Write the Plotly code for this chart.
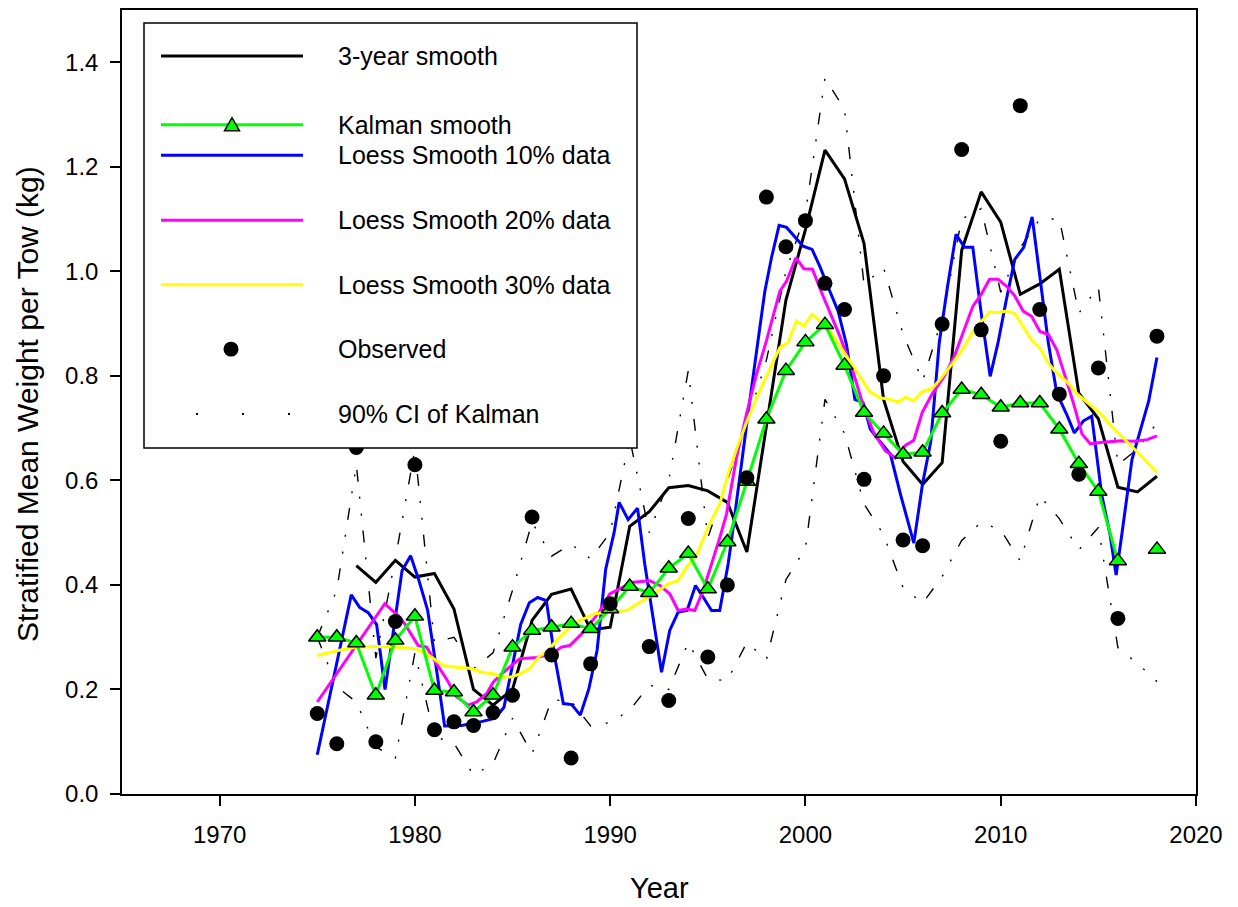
import plotly.graph_objects as go

# ---------------- data ----------------
years = list(range(1975, 2019))

kalman = [0.300, 0.300, 0.289, 0.189, 0.294, 0.340, 0.198, 0.195, 0.157, 0.189,
          0.281, 0.313, 0.319, 0.326, 0.316, 0.354, 0.397, 0.385, 0.432, 0.460,
          0.392, 0.482, 0.598, 0.717, 0.810, 0.865, 0.898, 0.820, 0.730, 0.690,
          0.650, 0.654, 0.729, 0.774, 0.764, 0.740, 0.748, 0.748, 0.698, 0.632,
          0.579, 0.446, None, 0.468]

ci_upper = [0.30, 0.39, 0.63, 0.26, 0.45, 0.66, 0.29, 0.30, 0.24, 0.27,
            0.39, 0.52, 0.455, 0.478, 0.45, 0.50, 0.68, 0.50, 0.60, 0.81,
            0.49, 0.60, 0.71, 0.83, 1.00, 1.11, 1.37, 1.31, 0.975, 1.007,
            0.88, 0.79, 0.91, 1.10, 1.12, 0.96, 1.045, 1.10, 1.10, 0.92,
            0.97, 0.63, 0.66, 0.71]

ci_lower = [0.30, 0.205, 0.176, 0.09, 0.069, 0.27, 0.11, 0.097, 0.036, 0.058,
            0.145, 0.077, 0.18, 0.178, 0.13, 0.137, 0.16, 0.208, 0.20, 0.29,
            0.22, 0.217, 0.29, 0.257, 0.41, 0.47, 0.755, 0.69, 0.555, 0.496,
            0.395, 0.365, 0.416, 0.485, 0.52, 0.505, 0.446, 0.57, 0.527, 0.467,
            0.51, 0.28, 0.25, 0.215]

years_3yr = list(range(1977, 2019))
smooth_3yr = [0.437, 0.405, 0.447, 0.415, 0.422, 0.354, 0.200, 0.170, 0.200, 0.332,
              0.382, 0.392, 0.314, 0.319, 0.512, 0.540, 0.586, 0.590, 0.580, 0.558,
              0.463, 0.705, 0.945, 1.080, 1.232, 1.177, 1.053, 0.755, 0.636, 0.592,
              0.634, 1.040, 1.152, 1.094, 0.956, 0.976, 1.004, 0.767, 0.718, 0.587,
              0.578, 0.608]

years_obs = list(range(1975, 2017)) + [2018]
observed = [0.154, 0.096, 0.663, 0.100, 0.330, 0.630, 0.123, 0.138, 0.131, 0.156,
            0.189, 0.530, 0.266, 0.069, 0.249, 0.364, 0.770, 0.282, 0.179, 0.527,
            0.262, 0.400, 0.605, 1.142, 1.047, 1.097, 0.977, 0.927, 0.602, 0.800,
            0.486, 0.475, 0.899, 1.233, 0.888, 0.675, 1.317, 0.927, 0.765, 0.612,
            0.815, 0.336, 0.876]

loess10_x = [1975.00, 1976.74, 1977.17, 1977.61, 1978.04, 1978.47, 1979.34, 1979.78, 1980.21, 1980.65,
             1981.08, 1981.52, 1982.38, 1983.25, 1984.12, 1984.56, 1984.99, 1985.42, 1985.86, 1986.29,
             1986.73, 1987.16, 1987.60, 1988.03, 1988.47, 1988.90, 1989.33, 1989.77, 1990.20, 1990.46,
             1990.92, 1991.40, 1991.77, 1992.03, 1992.63, 1993.05, 1993.48, 1993.94, 1994.37, 1994.76,
             1995.19, 1995.61, 1996.04, 1996.21, 1996.64, 1997.06, 1997.50, 1997.92, 1998.26, 1998.65,
             1999.03, 1999.45, 1999.88, 2000.34, 2000.73, 2001.25, 2001.67, 2002.10, 2002.53, 2002.95,
             2003.32, 2003.67, 2004.35, 2004.87, 2005.21, 2005.55, 2005.99, 2006.42, 2006.85, 2007.28,
             2007.71, 2008.14, 2008.57, 2009.00, 2009.46, 2009.86, 2010.29, 2010.72, 2011.18, 2011.61,
             2012.00, 2012.44, 2012.87, 2013.37, 2013.77, 2014.24, 2014.66, 2015.17, 2015.60, 2015.91,
             2016.20, 2016.72, 2017.58, 2018.00]
loess10_y = [0.075, 0.381, 0.357, 0.347, 0.324, 0.200, 0.427, 0.456, 0.408, 0.352,
             0.245, 0.130, 0.131, 0.137, 0.145, 0.166, 0.245, 0.325, 0.366, 0.376,
             0.370, 0.262, 0.173, 0.171, 0.151, 0.200, 0.275, 0.430, 0.500, 0.558,
             0.525, 0.547, 0.440, 0.376, 0.233, 0.313, 0.348, 0.351, 0.399, 0.377,
             0.351, 0.351, 0.440, 0.485, 0.612, 0.727, 0.848, 0.962, 1.026, 1.088,
             1.084, 1.067, 1.048, 1.042, 1.010, 0.962, 0.924, 0.860, 0.755, 0.749,
             0.698, 0.681, 0.650, 0.573, 0.528, 0.480, 0.592, 0.675, 0.863, 0.972,
             1.071, 1.046, 1.046, 0.920, 0.799, 0.863, 0.946, 1.023, 1.046, 1.104,
             0.991, 0.863, 0.767, 0.727, 0.691, 0.714, 0.723, 0.573, 0.496, 0.419,
             0.496, 0.640, 0.752, 0.835]

loess20_x = [1975.00, 1976.74, 1978.46, 1979.23, 1979.49, 1980.17, 1980.60, 1981.11, 1981.62, 1982.13,
             1982.73, 1983.16, 1983.67, 1984.01, 1984.44, 1984.95, 1985.38, 1986.23, 1987.00, 1987.50,
             1987.93, 1988.45, 1988.96, 1989.47, 1989.98, 1990.45, 1991.18, 1992.03, 1992.54, 1993.05,
             1993.48, 1993.91, 1994.33, 1994.76, 1995.19, 1995.61, 1995.96, 1996.47, 1996.98, 1997.49,
             1998.00, 1998.69, 1999.03, 1999.51, 1999.92, 2000.36, 2000.80, 2001.25, 2001.77, 2002.46,
             2002.97, 2003.49, 2004.09, 2004.61, 2005.12, 2005.55, 2005.98, 2006.50, 2007.10, 2007.62,
             2008.14, 2008.57, 2009.00, 2009.43, 2009.86, 2010.29, 2010.72, 2011.15, 2011.58, 2012.01,
             2012.44, 2012.87, 2013.30, 2013.73, 2014.16, 2014.59, 2015.19, 2015.71, 2016.22, 2016.82,
             2017.51, 2018.00]
loess20_y = [0.176, 0.270, 0.364, 0.338, 0.325, 0.284, 0.281, 0.249, 0.220, 0.186,
             0.170, 0.176, 0.192, 0.214, 0.230, 0.246, 0.259, 0.261, 0.268, 0.281,
             0.284, 0.303, 0.325, 0.350, 0.383, 0.392, 0.405, 0.408, 0.399, 0.383,
             0.351, 0.354, 0.351, 0.389, 0.440, 0.490, 0.536, 0.644, 0.727, 0.803,
             0.867, 0.962, 0.981, 1.026, 1.005, 1.004, 0.962, 0.921, 0.875, 0.805,
             0.742, 0.692, 0.657, 0.643, 0.667, 0.677, 0.730, 0.766, 0.799, 0.837,
             0.888, 0.933, 0.956, 0.985, 0.985, 0.972, 0.953, 0.924, 0.914, 0.885,
             0.879, 0.850, 0.799, 0.747, 0.689, 0.670, 0.673, 0.675, 0.676, 0.675,
             0.678, 0.685]

loess30_x = [1975.00, 1976.00, 1977.00, 1978.04, 1979.06, 1980.00, 1980.60, 1981.45, 1981.96, 1982.90,
             1983.41, 1984.01, 1984.44, 1984.95, 1985.38, 1985.89, 1986.32, 1986.83, 1987.25, 1987.77,
             1988.28, 1988.79, 1989.22, 1989.98, 1990.84, 1991.40, 1992.03, 1992.97, 1993.48, 1993.91,
             1994.42, 1995.10, 1995.61, 1996.04, 1996.47, 1996.98, 1997.49, 1998.09, 1998.69, 1999.11,
             1999.54, 1999.92, 2000.34, 2000.73, 2001.25, 2001.76, 2002.27, 2002.78, 2003.29, 2003.81,
             2004.32, 2004.75, 2005.12, 2005.55, 2005.98, 2006.50, 2007.02, 2007.53, 2008.14, 2008.57,
             2009.00, 2009.43, 2009.86, 2010.29, 2010.72, 2011.15, 2011.58, 2012.01, 2012.44, 2012.87,
             2013.38, 2013.90, 2014.50, 2015.10, 2015.71, 2016.39, 2017.08, 2018.00]
loess30_y = [0.265, 0.274, 0.281, 0.282, 0.281, 0.278, 0.268, 0.246, 0.243, 0.240,
             0.233, 0.230, 0.224, 0.224, 0.230, 0.240, 0.262, 0.274, 0.294, 0.313,
             0.329, 0.338, 0.345, 0.348, 0.351, 0.364, 0.378, 0.402, 0.408, 0.434,
             0.457, 0.517, 0.555, 0.612, 0.660, 0.711, 0.758, 0.806, 0.854, 0.864,
             0.905, 0.895, 0.918, 0.905, 0.886, 0.857, 0.828, 0.800, 0.770, 0.758,
             0.755, 0.750, 0.759, 0.752, 0.770, 0.776, 0.799, 0.824, 0.856, 0.885,
             0.904, 0.922, 0.921, 0.924, 0.919, 0.895, 0.869, 0.853, 0.824, 0.805,
             0.789, 0.766, 0.747, 0.728, 0.702, 0.677, 0.651, 0.615]

x_ticks = [1970, 1980, 1990, 2000, 2010, 2020]
y_ticks = [0.0, 0.2, 0.4, 0.6, 0.8, 1.0, 1.2, 1.4]

legend_labels = ["3-year smooth", "Kalman smooth", "Loess Smooth 10% data",
                 "Loess Smooth 20% data", "Loess Smooth 30% data", "Observed",
                 "90% CI of Kalman"]

assert len(loess10_x) == len(loess10_y)
assert len(loess20_x) == len(loess20_y)
assert len(loess30_x) == len(loess30_y)
assert len(kalman) == len(years) == len(ci_upper) == len(ci_lower)
assert len(years_3yr) == len(smooth_3yr) and len(years_obs) == len(observed)

# ---------------- styling ----------------
FONT = "Liberation Sans, Arial, sans-serif"
W, H = 1238, 907
ML, MR, MT, MB = 122, 42, 8, 113
PW, PH = W - ML - MR, H - MT - MB

LIME, BLUE, MAGENTA, YELLOW = "#00FF00", "#0000FF", "#FF00FF", "#FFFF00"
CI_DASH = "12px,15px,2px,15px,2px,15px"


def px(x):
    return (x - ML) / PW


def py(y):
    return (H - MB - y) / PH


fig = go.Figure()

fig.add_trace(go.Scatter(x=years, y=ci_upper, mode="lines", showlegend=False,
                         line=dict(color="black", width=1.4, dash=CI_DASH)))
fig.add_trace(go.Scatter(x=years, y=ci_lower, mode="lines", showlegend=False,
                         line=dict(color="black", width=1.4, dash=CI_DASH)))
fig.add_trace(go.Scatter(x=years_3yr, y=smooth_3yr, mode="lines", showlegend=False,
                         line=dict(color="black", width=3)))
fig.add_trace(go.Scatter(x=loess10_x, y=loess10_y, mode="lines", showlegend=False,
                         line=dict(color=BLUE, width=3)))
fig.add_trace(go.Scatter(x=loess20_x, y=loess20_y, mode="lines", showlegend=False,
                         line=dict(color=MAGENTA, width=3)))
fig.add_trace(go.Scatter(x=loess30_x, y=loess30_y, mode="lines", showlegend=False,
                         line=dict(color=YELLOW, width=3)))
fig.add_trace(go.Scatter(x=years, y=kalman, mode="lines+markers", showlegend=False,
                         connectgaps=False,
                         line=dict(color=LIME, width=3),
                         marker=dict(symbol="triangle-up", size=15, color=LIME,
                                     line=dict(color="black", width=1.5))))
fig.add_trace(go.Scatter(x=years_obs, y=observed, mode="markers", showlegend=False,
                         marker=dict(symbol="circle", size=15, color="black")))

# ---------------- custom legend box (drawn above the data) ----------------
shapes = []
annotations = []
LX0, LX1, LY0, LY1 = 144, 637, 21, 447
shapes.append(dict(type="rect", xref="paper", yref="paper", layer="above",
                   x0=px(LX0), x1=px(LX1), y0=py(LY1), y1=py(LY0),
                   fillcolor="white", line=dict(color="black", width=1.5)))
row_y = [54, 123, 153.6, 218.7, 283.4, 348, 413]
SX0, SX1, TX = 161, 303, 336
line_styles = [("black", 3), (LIME, 3), (BLUE, 3), (MAGENTA, 3), (YELLOW, 3)]
for (col, wd), ry in zip(line_styles, row_y[:5]):
    shapes.append(dict(type="line", xref="paper", yref="paper", layer="above",
                       x0=px(SX0), x1=px(SX1), y0=py(ry), y1=py(ry),
                       line=dict(color=col, width=wd)))
# Kalman triangle sample
tx, ty = 232, row_y[1]
shapes.append(dict(type="path", xref="paper", yref="paper", layer="above",
                   path="M {:.5f} {:.5f} L {:.5f} {:.5f} L {:.5f} {:.5f} Z".format(
                       px(tx - 7.5), py(ty + 6), px(tx + 7.5), py(ty + 6), px(tx), py(ty - 7)),
                   fillcolor=LIME, line=dict(color="black", width=1.5)))
# Observed dot sample
cx, cy = 231, row_y[5]
shapes.append(dict(type="circle", xref="paper", yref="paper", layer="above",
                   x0=px(cx - 7.5), x1=px(cx + 7.5), y0=py(cy + 7.5), y1=py(cy - 7.5),
                   fillcolor="black", line=dict(color="black", width=0)))
# CI sample
shapes.append(dict(type="line", xref="paper", yref="paper", layer="above",
                   x0=px(196), x1=px(291), y0=py(row_y[6]), y1=py(row_y[6]),
                   line=dict(color="black", width=2, dash="2px,44px")))

for lab, ry in zip(legend_labels, row_y):
    annotations.append(dict(text=lab, xref="paper", yref="paper", x=px(TX), y=py(ry),
                            xanchor="left", yanchor="middle", showarrow=False,
                            font=dict(family=FONT, size=25, color="black")))

# axis titles
annotations.append(dict(text="Year", xref="paper", yref="paper", x=px(659), y=py(888),
                        xanchor="center", yanchor="middle", showarrow=False,
                        font=dict(family=FONT, size=29, color="black")))
annotations.append(dict(text="Stratified Mean Weight per Tow (kg)", xref="paper", yref="paper",
                        x=px(28), y=py(403), textangle=-90,
                        xanchor="center", yanchor="middle", showarrow=False,
                        font=dict(family=FONT, size=30, color="black")))

fig.update_layout(
    width=W, height=H,
    margin=dict(l=ML, r=MR, t=MT, b=MB, pad=0),
    paper_bgcolor="white", plot_bgcolor="white",
    showlegend=False,
    shapes=shapes, annotations=annotations,
    font=dict(family=FONT, color="black"),
)
fig.update_xaxes(range=[1965, 2020], tickvals=x_ticks, ticks="outside", ticklen=10,
                 tickwidth=1.5, tickcolor="black", showline=True, linecolor="black",
                 linewidth=1.5, mirror=True, showgrid=False, zeroline=False,
                 tickfont=dict(family=FONT, size=24, color="black"), ticklabelstandoff=8)
fig.update_yaxes(range=[0, 1.5], tickvals=y_ticks, tickformat=".1f", ticks="outside",
                 ticklen=10, tickwidth=1.5, tickcolor="black", showline=True,
                 linecolor="black", linewidth=1.5, mirror=True, showgrid=False,
                 zeroline=False, tickfont=dict(family=FONT, size=24, color="black"),
                 ticklabelstandoff=7)

fig.write_html("out.html", config={"displayModeBar": False},
               post_script="document.body.style.margin='0';document.body.style.overflow='hidden';")
